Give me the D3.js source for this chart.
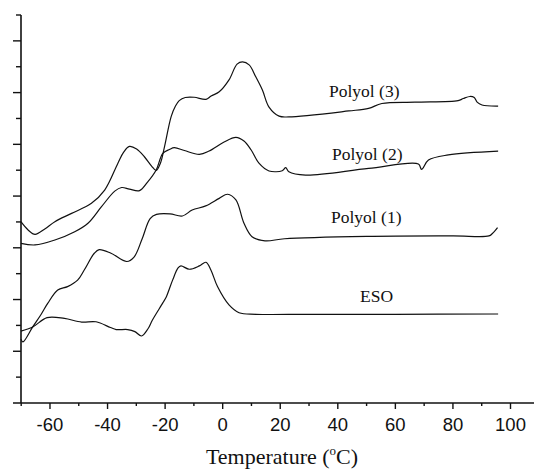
<!DOCTYPE html>
<html><head><meta charset="utf-8">
<script src="https://cdn.jsdelivr.net/npm/d3@7"></script>
<style>body{margin:0;background:#fff}svg{display:block}</style>
</head><body><svg id="c" width="534" height="471"></svg>
<script>
// Temperature (°C), heat flow (arbitrary units)
const eso = [[-70.1,2.78],[-66,2.94],[-61,3.30],[-55,3.27],[-49,3.13],[-44,3.14],[-39,2.92],[-37,2.84],[-33,2.84],[-30.5,2.76],[-28.2,2.59],[-26,2.86],[-24.4,3.21],[-20.8,3.87],[-19.6,4.10],[-17.4,4.75],[-15.5,5.22],[-14.5,5.30],[-11.6,5.17],[-8.1,5.30],[-5.8,5.44],[-4.1,5.14],[-1.8,4.50],[2.2,3.79],[5.7,3.49],[11.5,3.43],[30,3.43],[60,3.43],[95.7,3.44]];
const polyol1 = [[-70.1,2.47],[-69.4,2.36],[-66,2.94],[-63,3.44],[-60.8,3.85],[-57.3,4.37],[-53.9,4.50],[-50.4,4.75],[-48.1,5.14],[-44.6,5.79],[-42.9,5.93],[-38.8,5.79],[-33.3,5.47],[-30.8,5.64],[-28,6.34],[-25.2,7.13],[-23,7.29],[-18.3,7.31],[-14,7.23],[-10.6,7.46],[-5.9,7.62],[-1.2,7.91],[1.7,8.07],[4.6,7.85],[7.4,6.95],[10.2,6.43],[14.7,6.27],[21.5,6.35],[50,6.44],[80,6.46],[92.5,6.46],[93.7,6.55],[95.5,6.78]];
const polyol2 = [[-70.1,6.17],[-65.2,6.11],[-58.3,6.30],[-51.4,6.62],[-46.8,6.95],[-42.1,7.59],[-37.5,8.19],[-35.1,8.33],[-32.4,8.27],[-28.9,8.21],[-26.1,8.54],[-23.1,9.01],[-20.8,9.65],[-18.5,9.80],[-16.8,9.87],[-13.3,9.76],[-8.1,9.61],[-4.7,9.74],[0.5,10.09],[4.6,10.27],[7.4,10.13],[9.9,9.78],[12.6,9.27],[16.1,8.97],[20.7,8.98],[21.9,9.10],[23,8.94],[28.8,8.81],[50.7,9.07],[68,9.24],[69.1,9.03],[71.5,9.39],[78.4,9.59],[95.7,9.74]];
const polyol3 = [[-70.1,7.01],[-67.6,6.69],[-65.2,6.52],[-61.8,6.73],[-58.3,7.01],[-52.5,7.33],[-45.6,7.72],[-41,8.23],[-36.4,9.27],[-34.4,9.70],[-32.4,9.92],[-29.9,9.82],[-27.2,9.52],[-24.7,9.16],[-23.1,8.99],[-21.6,9.28],[-20.2,9.91],[-17.9,11.07],[-16.4,11.48],[-15.1,11.69],[-13,11.81],[-9.9,11.82],[-5.8,11.74],[-4,11.87],[-1.2,12.03],[2.2,12.49],[5,13.10],[6.9,13.19],[9.2,13.07],[11.5,12.61],[13.8,12.10],[16.1,11.44],[19.6,11.09],[23,11.06],[43.8,11.29],[50.7,11.39],[55.3,11.58],[66.8,11.63],[81.8,11.69],[83.6,11.77],[85.9,11.85],[87.4,11.81],[88.4,11.63],[90.1,11.52],[95.7,11.48]];
const seriesNames = ["ESO","Polyol (1)","Polyol (2)","Polyol (3)"];
const labelPos = [[360,302],[331,223],[332,160],[329,97]]; // label anchor points (px)
const xTicks = d3.range(-70,101,10);
const xLabels = [-60,-40,-20,0,20,40,60,80,100];
const yTicks = d3.range(1,16,1);

const svg = d3.select("#c");
const x = d3.scaleLinear().domain([-70,100]).range([21.2,510.5]);
const y = d3.scaleLinear().domain([0,15]).range([403,15]);

const line = d3.line().x(d=>x(d[0])).y(d=>y(d[1])).curve(d3.curveCatmullRom.alpha(0.5));
const all = [eso,polyol1,polyol2,polyol3];
svg.selectAll("path.curve").data(all).join("path").attr("class","curve")
  .attr("d",line).attr("fill","none").attr("stroke","#111").attr("stroke-width",1.2);

// axes
const g = svg.append("g");
g.append("line").attr("x1",13).attr("x2",534).attr("y1",403).attr("y2",403).attr("stroke","#111").attr("stroke-width",1.6);
g.append("line").attr("x1",21).attr("x2",21).attr("y1",15).attr("y2",403).attr("stroke","#111").attr("stroke-width",1.6);
g.selectAll("line.xt").data(xTicks).join("line").attr("class","xt")
  .attr("x1",d=>x(d)).attr("x2",d=>x(d)).attr("y1",403).attr("y2",d=>d%20===0?409:406)
  .attr("stroke","#111").attr("stroke-width",1.4);
g.selectAll("line.yt").data(yTicks).join("line").attr("class","yt")
  .attr("y1",d=>y(d)).attr("y2",d=>y(d)).attr("x1",d=>d%2===0?13:16).attr("x2",21)
  .attr("stroke","#111").attr("stroke-width",1.4);
g.selectAll("text.xl").data(xLabels).join("text").attr("class","xl")
  .attr("x",d=>x(d)).attr("y",431).attr("text-anchor","middle")
  .attr("font-family","Liberation Sans, Arial, sans-serif").attr("font-size",18.5).attr("fill","#111")
  .text(d=>d);

const title = svg.append("text").attr("x",282).attr("y",464).attr("text-anchor","middle")
  .attr("font-family","Liberation Serif, Times New Roman, serif").attr("font-size",22).attr("fill","#111");
title.append("tspan").text("Temperature (");
title.append("tspan").attr("font-size",13).attr("dy",-9).text("o");
title.append("tspan").attr("dy",9).text("C)");

svg.selectAll("text.lab").data(seriesNames).join("text").attr("class","lab")
  .attr("x",(d,i)=>labelPos[i][0]).attr("y",(d,i)=>labelPos[i][1])
  .attr("font-family","Liberation Serif, Times New Roman, serif").attr("font-size",17.5).attr("fill","#111")
  .text(d=>d);
</script></body></html>
